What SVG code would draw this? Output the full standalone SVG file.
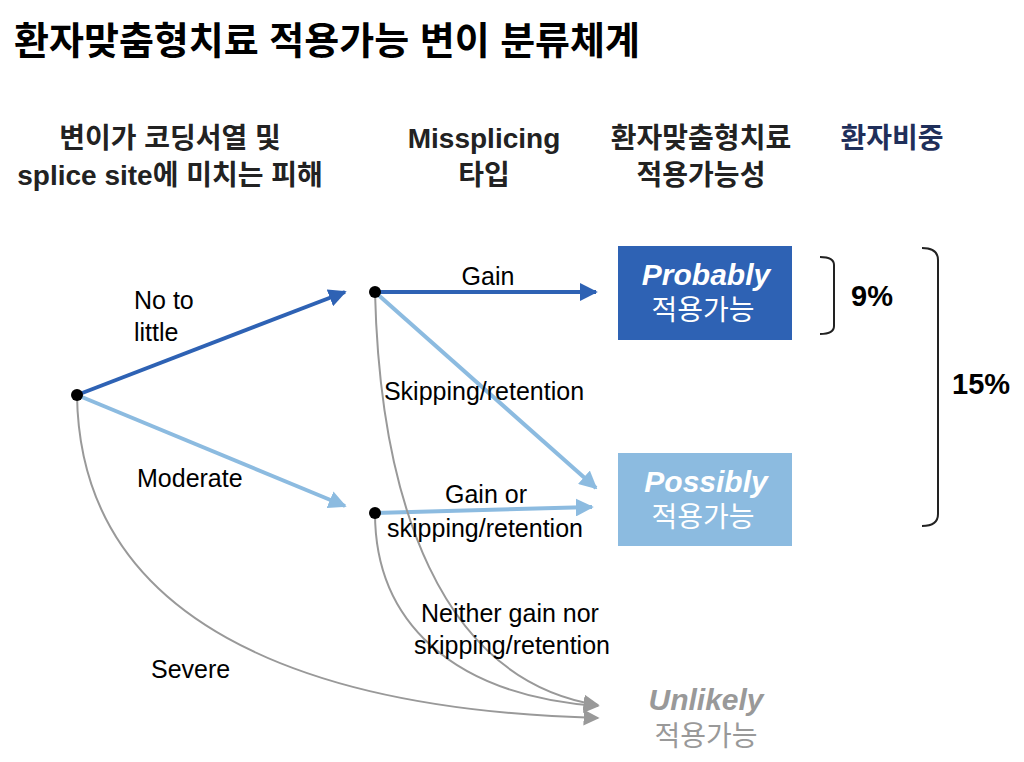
<svg xmlns="http://www.w3.org/2000/svg" width="1024" height="762" viewBox="0 0 1024 762">
<style>
text{font-family:"Liberation Sans","Noto Sans CJK KR",sans-serif;fill:#000}
.h{font-size:28px;font-weight:bold;fill:#222}
.l{font-size:25px}
.dk{stroke:#2E62B4;stroke-width:4;fill:none}
.lt{stroke:#8CBBE0;stroke-width:4;fill:none}
.gr{stroke:#999;stroke-width:2;fill:none}
</style>
<defs>
<marker id="md" viewBox="0 0 10 10" refX="9" refY="5" markerWidth="4.5" markerHeight="4.5" orient="auto" markerUnits="strokeWidth"><path d="M0,0L10,5L0,10z" fill="#2E62B4"/></marker>
<marker id="ml" viewBox="0 0 10 10" refX="9" refY="5" markerWidth="4.5" markerHeight="4.5" orient="auto" markerUnits="strokeWidth"><path d="M0,0L10,5L0,10z" fill="#8CBBE0"/></marker>
<marker id="mg" viewBox="0 0 10 10" refX="9" refY="5" markerWidth="8" markerHeight="8" orient="auto" markerUnits="strokeWidth"><path d="M0,0L10,5L0,10z" fill="#999"/></marker>
</defs>
<rect width="1024" height="762" fill="#fff"/>
<text x="14" y="54" font-size="38" font-weight="bold" fill="#111">환자맞춤형치료 적용가능 변이 분류체계</text>
<g id="headers" text-anchor="middle">
<text class="h" x="170" y="148">변이가 코딩서열 및</text>
<text class="h" x="170" y="185">splice site에 미치는 피해</text>
<text class="h" x="484" y="148">Missplicing</text>
<text class="h" x="484" y="185">타입</text>
<text class="h" x="701" y="148">환자맞춤형치료</text>
<text class="h" x="701" y="185">적용가능성</text>
<text class="h" x="892" y="148" style="fill:#1F2F5A">환자비중</text>
</g>
<g id="connectors">
<path class="dk" d="M77,395L345,292" marker-end="url(#md)"/>
<path class="lt" d="M77,395L345,506" marker-end="url(#ml)"/>
<path class="dk" d="M375,292L596,292" marker-end="url(#md)"/>
<path class="lt" d="M375,292L596,488" marker-end="url(#ml)"/>
<path class="lt" d="M375,513L592,507" marker-end="url(#ml)"/>
<path class="gr" d="M375,292C380,500 440,680 598,705" marker-end="url(#mg)"/>
<path class="gr" d="M375,513C375,620 450,695 598,706" marker-end="url(#mg)"/>
<path class="gr" d="M77,395C80,620 300,710 598,718" marker-end="url(#mg)"/>
</g>
<g id="nodeA"><circle cx="77" cy="395" r="6"/></g>
<g id="nodeB"><circle cx="375" cy="292" r="6"/></g>
<g id="nodeC"><circle cx="375" cy="513" r="6"/></g>
<g id="labels">
<text class="l" x="134" y="309">No to</text>
<text class="l" x="134" y="341">little</text>
<text class="l" x="137" y="487">Moderate</text>
<text class="l" x="151" y="678">Severe</text>
<text class="l" x="488" y="285" text-anchor="middle">Gain</text>
<text class="l" x="484" y="400" text-anchor="middle">Skipping/retention</text>
<text class="l" x="486" y="503" text-anchor="middle">Gain or</text>
<text class="l" x="485" y="537" text-anchor="middle">skipping/retention</text>
<text class="l" x="510" y="622" text-anchor="middle">Neither gain nor</text>
<text class="l" x="512" y="654" text-anchor="middle">skipping/retention</text>
</g>
<g id="probably">
<rect x="618" y="246" width="174" height="94" fill="#2E62B4"/>
<text x="706" y="285" text-anchor="middle" font-size="30" font-weight="bold" font-style="italic" style="fill:#fff">Probably</text>
<text x="703" y="320" text-anchor="middle" font-size="28" style="fill:#fff">적용가능</text>
</g>
<g id="possibly">
<rect x="618" y="453" width="174" height="93" fill="#8CBBE0"/>
<text x="706" y="492" text-anchor="middle" font-size="30" font-weight="bold" font-style="italic" style="fill:#fff">Possibly</text>
<text x="703" y="527" text-anchor="middle" font-size="28" style="fill:#fff">적용가능</text>
</g>
<g id="unlikely">
<text x="706" y="710" text-anchor="middle" font-size="30" font-weight="bold" font-style="italic" style="fill:#999">Unlikely</text>
<text x="706" y="746" text-anchor="middle" font-size="28" style="fill:#999">적용가능</text>
</g>
<g id="brackets" fill="none" stroke="#222" stroke-width="2">
<path d="M820,257Q834,257 834,265L834,326Q834,334 820,334"/>
<path d="M922,248Q938,248 938,260L938,514Q938,526 922,526"/>
</g>
<text x="851" y="306" font-size="29" font-weight="bold">9%</text>
<text x="952" y="394" font-size="29" font-weight="bold">15%</text>
</svg>
